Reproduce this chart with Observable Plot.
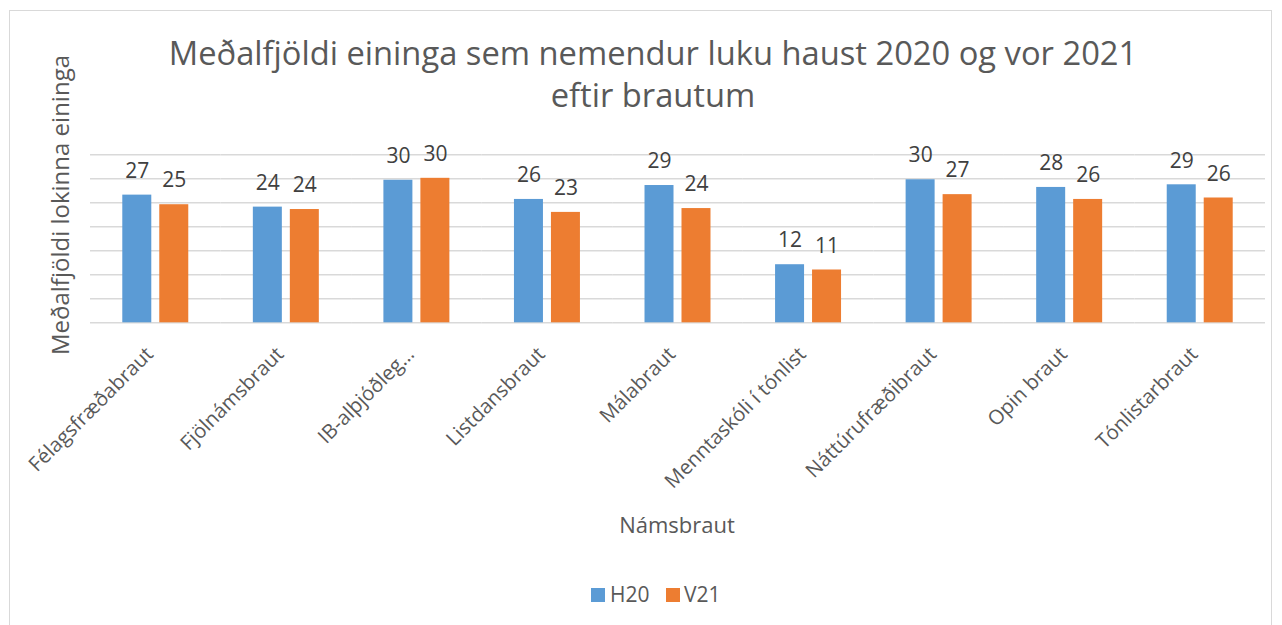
<!DOCTYPE html>
<html><head><meta charset="utf-8">
<script src="https://cdn.jsdelivr.net/npm/d3@7"></script>
<script src="https://cdn.jsdelivr.net/npm/@observablehq/plot@0.6"></script>
<style>
body{margin:0;background:#fff;font-family:"Open Sans",sans-serif;}
#wrap{position:relative;width:1282px;height:625px;overflow:hidden;background:#fff;}
#border{position:absolute;left:9px;top:10px;width:1263px;height:620px;border:1px solid #d9d9d9;box-sizing:border-box;}
.t{position:absolute;color:#595959;white-space:nowrap;}
#chart{position:absolute;left:0;top:0;}
.sw{position:absolute;width:14px;height:14px;}
</style></head><body>
<div id="wrap">
<div id="border"></div>
<div id="chart"></div>
<div class="t" id="title" style="left:653px;top:32px;transform:translateX(-50%);text-align:center;font-size:32.7px;line-height:42px;"></div>
<div class="t" id="ylab" style="left:60px;top:205px;font-size:24px;line-height:24px;transform:translate(-50%,-50%) rotate(-90deg);"></div>
<div class="t" id="xlab" style="left:677px;top:513px;font-size:22px;line-height:22px;transform:translateX(-50%);"></div>
<div id="legend"></div>
</div>
<script>
const titleLines = ["Meðalfjöldi eininga sem nemendur luku haust 2020 og vor 2021", "eftir brautum"];
const yLabel = "Meðalfjöldi lokinna eininga";
const xLabel = "Námsbraut";
const categories = ["Félagsfræðabraut","Fjölnámsbraut","IB-alþjóðleg…","Listdansbraut","Málabraut","Menntaskóli í tónlist","Náttúrufræðibraut","Opin braut","Tónlistarbraut"];
const series = ["H20","V21"];
const colors = ["#5B9BD5","#ED7D31"];
const H20 = [26.6, 24.1, 29.7, 25.7, 28.6, 12.1, 29.8, 28.2, 28.75];
const V21 = [24.6, 23.6, 30.1, 23.0, 23.8, 11.0, 26.7, 25.7, 26.0];
const gridTicks = [0,5,10,15,20,25,30,35];

document.getElementById("title").innerHTML = titleLines.join("<br>");
document.getElementById("ylab").textContent = yLabel;
document.getElementById("xlab").textContent = xLabel;

const data = categories.flatMap((c,i)=>[
  {cat:c, series:"H20", value:H20[i]},
  {cat:c, series:"V21", value:V21[i]}
]);

const chart = Plot.plot({
  width:1282, height:625,
  marginLeft:90, marginRight:17, marginTop:154.3, marginBottom:302.7,
  style:{fontFamily:"Open Sans", background:"transparent"},
  fx:{domain:categories, padding:0, round:false, label:null},
  x:{domain:series, axis:null, round:false, paddingInner:0.216, paddingOuter:0.873},
  y:{domain:[0,35], axis:null},
  color:{domain:series, range:colors},
  marks:[
    Plot.ruleY(gridTicks, {stroke:"#d9d9d9", strokeWidth:1.5}),
    Plot.barY(data, {fx:"cat", x:"series", y:"value", fill:"series"}),
    Plot.text(data, {fx:"cat", x:"series", y:"value", text:d=>String(Math.round(d.value)), dy:-24, fontSize:21, fill:"#404040"}),
    Plot.axisFx({anchor:"bottom", tickRotate:-45, tickSize:0, tickPadding:28, dx:-6, fontSize:20.2, fill:"#595959", label:null})
  ]
});
document.getElementById("chart").appendChild(chart);

const lg = document.getElementById("legend");
const lgPos = [{sx:591, tx:610},{sx:666, tx:684}];
series.forEach((s,i)=>{
  const sw = document.createElement("div");
  sw.className="sw"; sw.style.left=lgPos[i].sx+"px"; sw.style.top="588px"; sw.style.background=colors[i];
  lg.appendChild(sw);
  const t = document.createElement("div");
  t.className="t"; t.style.left=lgPos[i].tx+"px"; t.style.top="584px"; t.style.fontSize="21px"; t.style.lineHeight="21px";
  t.textContent=s; lg.appendChild(t);
});
</script>
</body></html>
